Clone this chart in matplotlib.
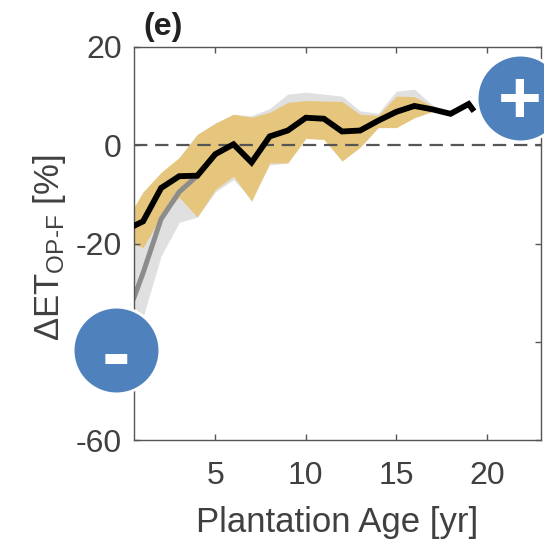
import numpy as np
from matplotlib import pyplot as plt

plt.rcParams['font.family'] = ['Liberation Sans', 'DejaVu Sans']
plt.rcParams['mathtext.fontset'] = 'custom'
plt.rcParams['mathtext.rm'] = 'Liberation Sans'
plt.rcParams['mathtext.default'] = 'regular'
plt.rcParams['axes.unicode_minus'] = False

TEXT = '#404040'
GOLD = '#e6c67c'
GRAY_BAND = '#e0e0e0'
BLUE = '#4f81bd'

# plantation age [yr]
age = [0.5, 1, 2, 3, 4, 5, 6, 7, 8, 9, 10, 11, 12, 13, 14, 15, 16, 17, 18, 19, 19.2]
mean_all = [-16.4, -15.5, -8.7, -6.3, -6.2, -1.8, 0.2, -3.5, 1.8, 3.0, 5.6, 5.4, 2.8, 3.0, 5.0, 6.8, 8.0, 7.3, 6.4, 8.4, 7.4]

gold_age = [0.5, 1, 2, 3, 4, 5, 6, 7, 8, 9, 10, 11, 12, 13, 14, 15, 16, 17, 18]
gold_upper = [-12.6, -9.5, -5.5, -2.5, 2.2, 4.5, 6.3, 5.7, 6.7, 8.7, 9.1, 9.0, 8.9, 6.3, 6.1, 10.0, 9.9, 7.9, 6.4]
gold_lower = [-20.2, -20.8, -14.5, -10.6, -14.6, -9.0, -6.3, -11.4, -3.6, -3.6, 1.4, 1.2, -3.2, -0.4, 3.6, 3.6, 5.6, 6.9, 6.4]

gray_age = [0.5, 1, 2, 3, 4, 5, 6, 7, 8, 9, 10, 11, 12, 13, 14, 15, 16, 17, 18]
gray_upper = [-14.0, -10.5, -6.0, -2.5, 2.2, 4.5, 6.3, 6.0, 7.5, 10.4, 10.8, 10.4, 10.0, 7.0, 6.5, 11.0, 11.4, 8.2, 6.4]
gray_lower = [-33.0, -35.0, -22.5, -15.7, -14.6, -9.5, -7.0, -11.0, -4.0, -3.6, 1.4, 1.2, -3.2, -0.4, 3.6, 3.6, 5.6, 6.9, 6.4]

young_age = [0.5, 1, 2, 3, 4]
young_mean = [-31.0, -26.0, -15.0, -9.5, -6.2]

x_ticks = [5, 10, 15, 20]
y_ticks = [-60, -40, -20, 0, 20]

fig = plt.figure(figsize=(5.44, 5.41), dpi=100)
ax = fig.add_axes([134 / 544, 1 - 440 / 541, (541 - 134) / 544, (440 - 47) / 541])

ax.fill_between(gray_age, gray_lower, gray_upper, color=GRAY_BAND, lw=0, zorder=1)
ax.fill_between(gold_age, gold_lower, gold_upper, color=GOLD, lw=0, zorder=1.5)
ax.axhline(0, color='#555555', lw=1.6, dashes=(6, 3.5), zorder=2)
ax.plot(young_age, young_mean, color='#8c8c8c', lw=3.6, zorder=2.2)
ax.plot(age, mean_all, color='black', lw=4.2, solid_joinstyle='miter', zorder=3)

ax.set_xlim(0.5, 23)
ax.set_ylim(-59.5, 20)
ax.set_xticks(x_ticks)
ax.set_yticks(y_ticks)
ax.tick_params(direction='in', length=4, width=1, color='#555555', labelcolor=TEXT,
               labelsize=23, top=True, right=True, zorder=2)
ax.tick_params(axis='x', pad=15)
ax.tick_params(axis='y', pad=9)
for side in ax.spines.values():
    side.set_color('#555555')
    side.set_linewidth(1)

ax.set_xlabel('Plantation Age [yr]', fontsize=25, color=TEXT, labelpad=11)
ax.set_ylabel(r'$\Delta$ET$_{OP\text{-}F}$ [%]', fontsize=25, color=TEXT, labelpad=5, y=0.49)
ax.text(0.022, 1.012, '(e)', transform=ax.transAxes, fontsize=23, fontweight='bold',
        color='#222222', ha='left', va='bottom')

# sign badges, they sit on top of the axes and hide the -40 label
ax.scatter([21.85, -0.47], [9.7, -41.6], s=3900, color=BLUE, edgecolors='white', linewidths=2,
           clip_on=False, zorder=10)
ax.text(21.85, 8.6, '+', color='white', fontsize=54, fontweight='bold', ha='center', va='center',
        clip_on=False, zorder=11)
ax.text(-0.47, -43.6, '-', color='white', fontsize=62, fontweight='bold', ha='center', va='center',
        clip_on=False, zorder=11)

fig.savefig('out.png', dpi=100)
